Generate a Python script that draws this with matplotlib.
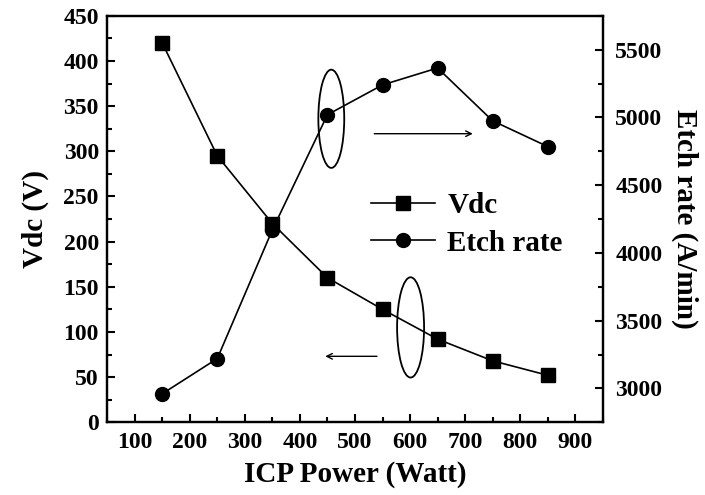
import matplotlib.pyplot as plt
from matplotlib.patches import Ellipse
from matplotlib.ticker import MultipleLocator

plt.rcParams['font.family'] = ['Liberation Serif', 'DejaVu Serif']
plt.rcParams['font.weight'] = 'bold'

# data
power = [150, 250, 350, 450, 550, 650, 750, 850]
vdc = [420, 295, 220, 160, 125, 92, 68, 52]
etch_rate = [2960, 3220, 4170, 5020, 5240, 5365, 4975, 4785]

fig = plt.figure(figsize=(7.05, 4.95), dpi=100)
ax = fig.add_axes([0.152, 0.147, 0.703, 0.821])
ax2 = ax.twinx()

l1, = ax.plot(power, vdc, color='black', lw=1.2, marker='s', ms=9.5,
              label='Vdc')
l2, = ax2.plot(power, etch_rate, color='black', lw=1.2, marker='o', ms=10,
               label='Etch rate')

ax.set_xlim(50, 950)
ax.set_ylim(0, 450)
ax2.set_ylim(2750, 5750)

ax.xaxis.set_major_locator(MultipleLocator(100))
ax.xaxis.set_minor_locator(MultipleLocator(50))
ax.yaxis.set_major_locator(MultipleLocator(50))
ax.yaxis.set_minor_locator(MultipleLocator(25))
ax2.yaxis.set_major_locator(MultipleLocator(500))
ax2.yaxis.set_minor_locator(MultipleLocator(250))
ax2.set_yticks([3000, 3500, 4000, 4500, 5000, 5500])

ax.tick_params(which='major', direction='in', length=6, width=1.5,
               labelsize=17, top=False)
ax.tick_params(axis='x', which='major', pad=7)
ax.tick_params(axis='y', which='major', pad=6)
ax.tick_params(which='minor', direction='in', length=3.5, width=1.5,
               top=False)
ax2.tick_params(which='major', direction='in', length=6, width=1.5,
                labelsize=17, pad=9)
ax2.tick_params(which='minor', direction='in', length=3.5, width=1.5)
for a in (ax, ax2):
    for s in a.spines.values():
        s.set_linewidth(1.6)

ax.set_xlabel('ICP Power (Watt)', fontsize=21, fontweight='bold',
              labelpad=6)
ax.set_ylabel('Vdc (V)', fontsize=21, fontweight='bold', labelpad=10)
ax2.set_ylabel('Etch rate (A/min)', fontsize=21, fontweight='bold',
               rotation=270, labelpad=26)

# ellipses marking which curve belongs to which axis
ax2.add_patch(Ellipse((457, 4990), 47, 725, fill=False, lw=1.3,
                      color='black'))
ax.add_patch(Ellipse((601, 105), 49, 111, fill=False, lw=1.3,
                     color='black'))

ax2.annotate('', xy=(719, 4880), xytext=(530, 4880),
             arrowprops=dict(arrowstyle='->', lw=1, color='black'))
ax.annotate('', xy=(441, 73), xytext=(545, 73),
            arrowprops=dict(arrowstyle='->', lw=1, color='black'))

ax2.legend([l1, l2], ['Vdc', 'Etch rate'], loc='upper left',
           bbox_to_anchor=(0.48, 0.63), frameon=False, fontsize=21,
           handlelength=2.2, handletextpad=0.4, labelspacing=0.35)

fig.savefig('out.png', dpi=100)
